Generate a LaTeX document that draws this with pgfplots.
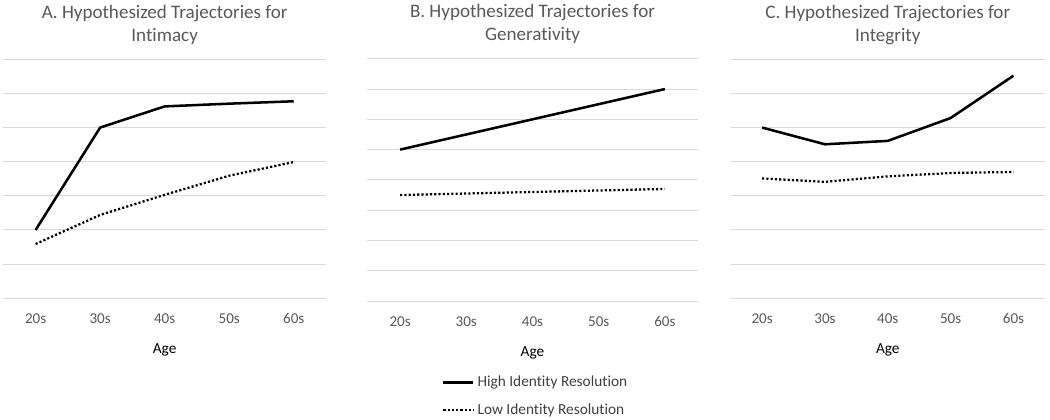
\documentclass[border=0pt]{standalone}
\usepackage{fontspec}
\setmainfont{Carlito}[Ligatures=NoCommon]
\usepackage{pgfplots}
\pgfplotsset{compat=1.18}

\definecolor{txtgray}{HTML}{595959}
\definecolor{gridgray}{HTML}{D9D9D9}
\definecolor{leggray}{HTML}{404040}

\tikzset{ttl/.style={font=\fontsize{14.3}{16.5}\selectfont, text=txtgray, anchor=base}}

\pgfplotsset{
  panel/.style={
    scale only axis,
    xmin=-0.5, xmax=4.5, ymin=0,
    axis line style={draw=none},
    xtick={0,...,4},
    xticklabels={20s,30s,40s,50s,60s},
    ytick distance=1,
    yticklabels={},
    ymajorgrids,
    grid style={gridgray, line width=0.75pt},
    major tick length=0pt,
    tick label style={font=\fontsize{11.3}{13}\selectfont, text=txtgray},
    xticklabel style={anchor=base, yshift=-18.75pt},
    xlabel={Age},
    xlabel style={font=\fontsize{11.5}{13}\selectfont, at={(axis description cs:0.5,0)}, anchor=base, yshift=-41.25pt},
    clip=false,
  },
  hi/.style={black, line width=1.9pt, line join=round},
  lo/.style={black, line width=1.7pt, dash pattern=on 1.6pt off 1.6pt},
}

\begin{document}
\begin{tikzpicture}
\path[use as bounding box] (0pt,0pt) rectangle (787.5pt,-314.25pt);

% A. Intimacy
\begin{axis}[panel, at={(2.5pt,-223.7pt)}, anchor=south west,
  width=242pt, height=179.25pt, ymax=7]
\addplot[hi] coordinates {(0,2.0) (1,5.0) (2,5.62) (3,5.70) (4,5.77)};
\addplot[lo] coordinates {(0,1.59) (1,2.44) (2,3.03) (3,3.59) (4,3.99)};
\node[ttl] at (rel axis cs:0.5,1) [yshift=30.75pt] {A. Hypothesized Trajectories for};
\node[ttl] at (rel axis cs:0.5,1) [yshift=13.2pt] {Intimacy};
\end{axis}

% B. Generativity
\begin{axis}[panel, at={(275.25pt,-225.75pt)}, anchor=south west,
  width=248.25pt, height=181.7pt, ymax=8,
  legend style={at={(0.214,-0.287)}, anchor=north west, draw=none, fill=none,
    font=\fontsize{11.5}{13}\selectfont, text=leggray, row sep=7pt,
    nodes={inner xsep=2.2pt}},
  legend cell align=left,
  legend image code/.code={\draw[#1] (0pt,0pt) -- (22.5pt,0pt);}]
\addplot[hi] coordinates {(0,5.0) (1,5.5) (2,6.0) (3,6.5) (4,7.0)};
\addplot[lo] coordinates {(0,3.5) (1,3.55) (2,3.6) (3,3.65) (4,3.7)};
\legend{High Identity Resolution, Low Identity Resolution}
\node[ttl] at (rel axis cs:0.5,1) [yshift=31pt] {B. Hypothesized Trajectories for};
\node[ttl] at (rel axis cs:0.5,1) [yshift=13.5pt] {Generativity};
\end{axis}

% C. Integrity
\begin{axis}[panel, at={(548pt,-223.7pt)}, anchor=south west,
  width=235.7pt, height=179.25pt, ymax=7]
\addplot[hi] coordinates {(0,5.0) (1,4.51) (2,4.61) (3,5.28) (4,6.52)};
\addplot[lo] coordinates {(0,3.51) (1,3.41) (2,3.57) (3,3.67) (4,3.70)};
\node[ttl] at (rel axis cs:0.5,1) [yshift=30.75pt] {C. Hypothesized Trajectories for};
\node[ttl] at (rel axis cs:0.5,1) [yshift=13.2pt] {Integrity};
\end{axis}
\end{tikzpicture}
\end{document}
